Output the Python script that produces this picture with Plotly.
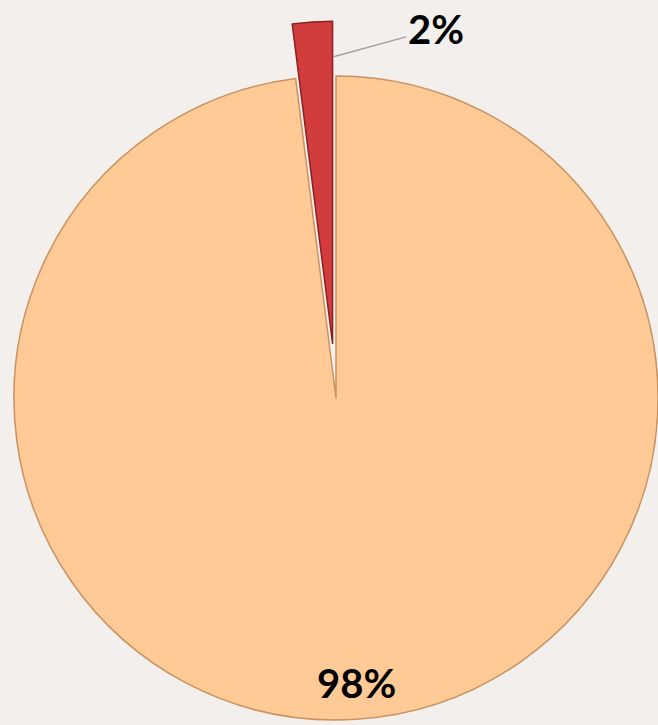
import math
import plotly.graph_objects as go

# ---- data ----
categories = ["Segment A", "Segment B"]
values = [2, 98]
slice_colors = ["#D23C3C", "#FFCA96"]
edge_colors = ["#8E2020", "#C9925F"]

W, H = 658, 725
BG = "#F2EFEC"
TRANSPARENT = "rgba(0,0,0,0)"

def dom(cx, cy, r):
    return dict(
        x=[max(0.0, (cx - r) / W), min(1.0, (cx + r) / W)],
        y=[max(0.0, (H - (cy + r)) / H), min(1.0, (H - (cy - r)) / H)],
    )

# main pie geometry (pixels)
cx, cy, r = 336, 398, 322
pull = 0.17
total = sum(values)
half_angle = math.radians(values[0] / total * 360 / 2)
dx = -r * pull * math.sin(half_angle)
dy = -r * pull * math.cos(half_angle)
cxb, cyb = cx + dx, cy + dy

pct = [f"{round(v / total * 100)}%" for v in values]

common = dict(labels=categories, values=values, sort=False, direction="clockwise",
              rotation=-values[0] / total * 360, textinfo="none",
              hoverinfo="label+percent", showlegend=False)

fig = go.Figure()
# large slice (exploded small slice left as a gap)
fig.add_trace(go.Pie(
    marker=dict(colors=[TRANSPARENT, slice_colors[1]],
                line=dict(color=[TRANSPARENT, edge_colors[1]], width=1.5)),
    domain=dom(cx, cy, r), **common,
))
# pulled-out small slice
fig.add_trace(go.Pie(
    marker=dict(colors=[slice_colors[0], TRANSPARENT],
                line=dict(color=[edge_colors[0], TRANSPARENT], width=1.5)),
    domain=dom(cxb, cyb, r), **common,
))

label_font = dict(family="Lato, Liberation Sans, sans-serif", size=40, color="#000000")

# label for small slice with leader line
px_pt, py_pt = cxb + 1, cyb - 0.89 * r
fig.add_annotation(
    x=px_pt / W, y=(H - py_pt) / H, xref="paper", yref="paper",
    text=f"<b>{pct[0]}</b>", showarrow=True, arrowhead=0, arrowwidth=1.5,
    arrowcolor="#A0A0A0", ax=102, ay=-28, font=label_font,
)
# label for large slice
fig.add_annotation(
    x=357 / W, y=(H - 683) / H, xref="paper", yref="paper",
    xanchor="center", yanchor="middle",
    text=f"<b>{pct[1]}</b>", showarrow=False, font=label_font,
)

fig.update_layout(
    width=W, height=H, margin=dict(l=0, r=0, t=0, b=0),
    paper_bgcolor=BG, plot_bgcolor=BG,
)
fig.write_html("out.html", config={"displayModeBar": False},
               post_script="document.body.style.margin='0';document.body.style.background='%s';" % BG)
